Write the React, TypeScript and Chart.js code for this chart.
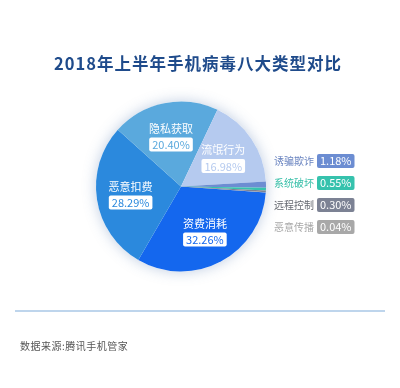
import { useEffect, useRef } from 'react';
import { Chart, registerables } from 'chart.js';

Chart.register(...registerables);

const TITLE = '2018年上半年手机病毒八大类型对比';
const SOURCE = '数据来源:腾讯手机管家';

const categories = ['资费消耗', '恶意扣费', '隐私获取', '流氓行为', '诱骗欺诈', '系统破坏', '远程控制', '恶意传播'];
const shares = [32.26, 28.29, 20.4, 16.98, 1.18, 0.55, 0.3, 0.04];
const sliceColors = ['#1467ee', '#2b89dd', '#5aa9dd', '#b5caef', '#6c8dd2', '#36c2ad', '#7c8294', '#a8a8a8'];
const nameColors = ['#fff', '#fff', '#fff', '#fff', '#6a84c0', '#36bfa8', '#666a72', '#a8a8a8'];
const insideCount = 4;

const FONT = '"Noto Sans CJK SC", "Noto Sans", sans-serif';

const labelPlugin = {
  id: 'customLabels',
  beforeDatasetsDraw(chart: any) {
    const ctx = chart.ctx;
    const arc = chart.getDatasetMeta(0).data[0];
    if (!arc) return;
    const p = arc.getProps(['x', 'y', 'outerRadius'], true);
    ctx.save();
    ctx.shadowColor = 'rgba(70,110,170,0.35)';
    ctx.shadowBlur = 14;
    ctx.beginPath();
    ctx.arc(p.x, p.y, p.outerRadius, 0, Math.PI * 2);
    ctx.fillStyle = '#ffffff';
    ctx.fill();
    ctx.restore();
  },
  afterDraw(chart: any) {
    const ctx = chart.ctx;
    const meta = chart.getDatasetMeta(0);
    ctx.save();
    // title
    ctx.font = `bold 16.5px ${FONT}`;
    (ctx as any).letterSpacing = '1px';
    ctx.fillStyle = '#1f4b8b';
    ctx.textAlign = 'center';
    ctx.textBaseline = 'middle';
    ctx.fillText(TITLE, 198, 64);
    (ctx as any).letterSpacing = '0px';

    // inside labels
    for (let i = 0; i < insideCount; i++) {
      const a = meta.data[i];
      const p = a.getProps(['x', 'y', 'startAngle', 'endAngle', 'outerRadius'], true);
      const mid = (p.startAngle + p.endAngle) / 2;
      const r = p.outerRadius * 0.6;
      const cx = p.x + Math.cos(mid) * r;
      const cy = p.y + Math.sin(mid) * r;
      ctx.font = `11px ${FONT}`;
      ctx.textAlign = 'center';
      ctx.textBaseline = 'middle';
      ctx.fillStyle = nameColors[i];
      ctx.fillText(categories[i], cx, cy - 8);
      const txt = shares[i].toFixed(2) + '%';
      const w = ctx.measureText(txt).width + 6;
      ctx.beginPath();
      ctx.roundRect(cx - w / 2, cy + 1, w, 14, 2);
      ctx.fillStyle = '#ffffff';
      ctx.fill();
      ctx.fillStyle = sliceColors[i];
      ctx.fillText(txt, cx, cy + 8.5);
    }

    // outside list
    for (let i = insideCount; i < categories.length; i++) {
      const y = 161 + (i - insideCount) * 22;
      ctx.font = `10px ${FONT}`;
      ctx.textAlign = 'left';
      ctx.textBaseline = 'middle';
      ctx.fillStyle = nameColors[i];
      ctx.fillText(categories[i], 274, y);
      ctx.font = `11px ${FONT}`;
      const txt = shares[i].toFixed(2) + '%';
      const w = ctx.measureText(txt).width + 6;
      ctx.beginPath();
      ctx.roundRect(317, y - 7, w, 14, 2);
      ctx.fillStyle = sliceColors[i];
      ctx.fill();
      ctx.fillStyle = '#ffffff';
      ctx.fillText(txt, 320, y);
    }

    // footer line
    ctx.beginPath();
    ctx.moveTo(15, 311);
    ctx.lineTo(385, 311);
    ctx.lineWidth = 1.5;
    ctx.strokeStyle = '#a9c7e6';
    ctx.stroke();

    ctx.font = `10px ${FONT}`;
    (ctx as any).letterSpacing = '0.5px';
    ctx.textAlign = 'left';
    ctx.textBaseline = 'middle';
    ctx.fillStyle = '#555555';
    ctx.fillText(SOURCE, 20, 346);
    ctx.restore();
  },
};

export default function App() {
  const ref = useRef<HTMLCanvasElement>(null);
  useEffect(() => {
    document.body.style.margin = '0';
    const chart = new Chart(ref.current!, {
      type: 'pie',
      data: {
        labels: categories,
        datasets: [
          {
            data: shares,
            backgroundColor: sliceColors,
            borderWidth: 0,
          },
        ],
      },
      options: {
        responsive: false,
        animation: false,
        rotation: 94,
        layout: { padding: { left: 96, right: 134, top: 101.5, bottom: 116.5 } },
        plugins: {
          legend: { display: false },
          tooltip: { enabled: false },
          title: { display: false },
        },
      },
      plugins: [labelPlugin],
    });
    return () => chart.destroy();
  }, []);
  return (
    <div style={{ width: 400, height: 388, background: '#fff' }}>
      <canvas ref={ref} width={400} height={388} style={{ display: 'block' }} />
    </div>
  );
}
